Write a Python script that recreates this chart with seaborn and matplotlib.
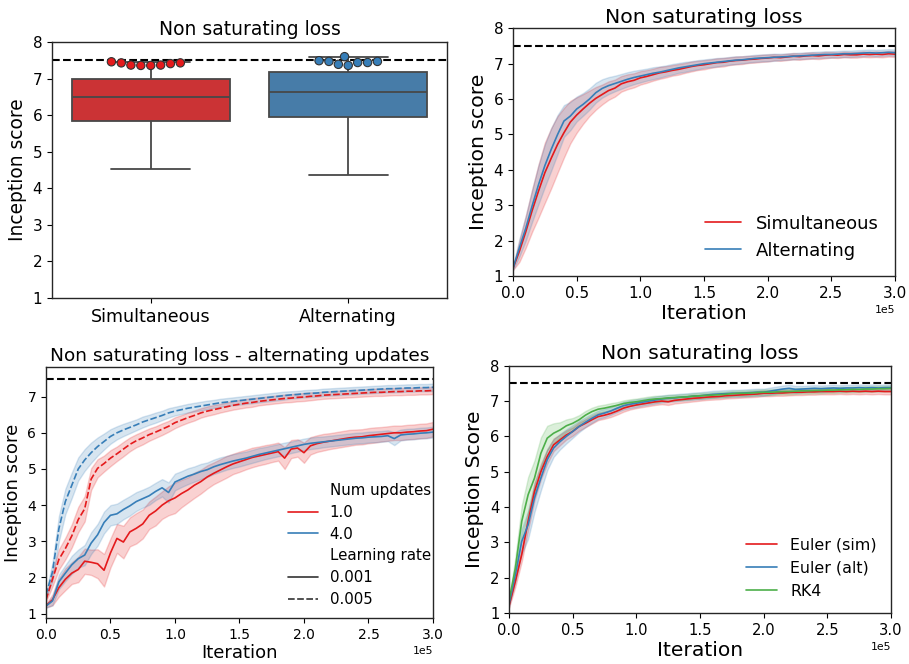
import numpy as np
import pandas as pd
import matplotlib
matplotlib.use("Agg")
import matplotlib.pyplot as plt
import seaborn as sns

# ---------------------------------------------------------------------------
# Data
# ---------------------------------------------------------------------------
ITER = np.arange(0, 300001, 5000)          # evaluation checkpoints

RED, BLUE, GREEN = "#e41a1c", "#377eb8", "#4daf4a"
TARGET_SCORE = 7.5                         # score of the real data

# Top left: distribution of scores per update scheme
methods = ["Simultaneous", "Alternating"]
# whisker low, Q1, median, Q3, whisker high
sim_summary = [4.53, 5.83, 6.50, 7.00, 7.46]
alt_summary = [4.36, 5.94, 6.64, 7.18, 7.60]
# best score of every run
sim_best = [7.46, 7.43, 7.37, 7.36, 7.36, 7.37, 7.41, 7.43]
alt_best = [7.47, 7.44, 7.39, 7.60, 7.36, 7.44, 7.47, 7.49]

# Top right: mean score and spread over runs
tr_sim = [1.22, 1.70, 2.25, 2.85, 3.40, 3.92, 4.33, 4.72, 5.05, 5.35,
          5.55, 5.72, 5.88, 6.02, 6.13, 6.24, 6.31, 6.43, 6.49, 6.53,
          6.60, 6.64, 6.69, 6.74, 6.77, 6.81, 6.84, 6.88, 6.92, 6.95,
          6.97, 7.00, 7.03, 7.04, 7.07, 7.09, 7.10, 7.12, 7.13, 7.15,
          7.16, 7.18, 7.17, 7.19, 7.21, 7.20, 7.22, 7.23, 7.22, 7.24,
          7.25, 7.24, 7.26, 7.25, 7.25, 7.27, 7.26, 7.27, 7.26, 7.28,
          7.27]
tr_sim_spread = [0.05, 0.30, 0.45, 0.60, 0.75, 0.85, 0.85, 0.80, 0.70, 0.60,
                 0.50, 0.42, 0.36, 0.32, 0.28, 0.26, 0.24, 0.22, 0.21, 0.20,
                 0.19, 0.18, 0.17, 0.17, 0.16, 0.15, 0.15, 0.14, 0.14, 0.13,
                 0.13, 0.12, 0.12, 0.12, 0.11, 0.11, 0.11, 0.10, 0.10, 0.10,
                 0.10, 0.09, 0.09, 0.09, 0.09, 0.09, 0.09, 0.09, 0.09, 0.09,
                 0.08, 0.08, 0.08, 0.08, 0.08, 0.08, 0.08, 0.08, 0.08, 0.08,
                 0.08]
tr_alt = [1.22, 1.80, 2.35, 2.98, 3.58, 4.12, 4.58, 5.00, 5.38, 5.52,
          5.72, 5.85, 6.00, 6.18, 6.30, 6.38, 6.44, 6.50, 6.56, 6.61,
          6.65, 6.69, 6.73, 6.76, 6.80, 6.84, 6.88, 6.91, 6.94, 6.97,
          7.00, 7.02, 7.04, 7.06, 7.08, 7.10, 7.11, 7.13, 7.15, 7.16,
          7.17, 7.18, 7.19, 7.20, 7.21, 7.22, 7.23, 7.24, 7.25, 7.26,
          7.26, 7.27, 7.28, 7.28, 7.29, 7.30, 7.31, 7.30, 7.31, 7.32,
          7.31]
tr_alt_spread = [0.05, 0.25, 0.35, 0.45, 0.55, 0.60, 0.60, 0.55, 0.45, 0.40,
                 0.35, 0.32, 0.30, 0.28, 0.26, 0.24, 0.22, 0.21, 0.20, 0.19,
                 0.18, 0.17, 0.17, 0.16, 0.15, 0.15, 0.14, 0.14, 0.13, 0.13,
                 0.12, 0.12, 0.12, 0.11, 0.11, 0.11, 0.10, 0.10, 0.10, 0.10,
                 0.10, 0.10, 0.09, 0.09, 0.09, 0.09, 0.09, 0.09, 0.09, 0.09,
                 0.09, 0.09, 0.09, 0.09, 0.09, 0.09, 0.09, 0.09, 0.09, 0.09,
                 0.09]

# Bottom left: alternating updates, by number of updates and learning rate
num_updates = ["1.0", "4.0"]
learning_rates = ["0.001", "0.005"]
bl_u1_lr1 = [1.22, 1.38, 1.72, 1.95, 2.12, 2.22, 2.45, 2.42, 2.38, 2.20,
             2.68, 3.08, 2.98, 3.26, 3.36, 3.48, 3.72, 3.84, 4.00, 4.12,
             4.20, 4.32, 4.42, 4.55, 4.65, 4.78, 4.88, 4.97, 5.06, 5.14,
             5.20, 5.26, 5.32, 5.36, 5.40, 5.44, 5.48, 5.30, 5.55, 5.58,
             5.45, 5.64, 5.70, 5.74, 5.77, 5.80, 5.83, 5.86, 5.88, 5.89,
             5.92, 5.94, 5.96, 5.98, 6.00, 6.00, 6.02, 6.03, 6.05, 6.06,
             6.10]
bl_u1_lr1_spread = [0.05, 0.15, 0.25, 0.30, 0.30, 0.35, 0.35, 0.35, 0.40, 0.45,
                    0.40, 0.40, 0.45, 0.40, 0.42, 0.40, 0.38, 0.40, 0.38, 0.40,
                    0.42, 0.38, 0.35, 0.35, 0.33, 0.32, 0.30, 0.30, 0.30, 0.28,
                    0.28, 0.27, 0.27, 0.26, 0.26, 0.25, 0.25, 0.30, 0.25, 0.24,
                    0.28, 0.24, 0.23, 0.23, 0.22, 0.22, 0.22, 0.22, 0.21, 0.21,
                    0.21, 0.21, 0.20, 0.20, 0.20, 0.20, 0.20, 0.20, 0.20, 0.20,
                    0.20]
bl_u4_lr1 = [1.21, 1.35, 1.88, 2.12, 2.35, 2.52, 2.62, 2.95, 3.18, 3.52,
             3.72, 3.76, 3.88, 3.98, 4.10, 4.18, 4.26, 4.38, 4.48, 4.35,
             4.64, 4.72, 4.80, 4.86, 4.93, 4.98, 5.06, 5.12, 5.17, 5.22,
             5.26, 5.30, 5.35, 5.40, 5.44, 5.48, 5.52, 5.56, 5.60, 5.64,
             5.68, 5.71, 5.73, 5.75, 5.77, 5.79, 5.81, 5.83, 5.85, 5.86,
             5.88, 5.89, 5.90, 5.92, 5.84, 5.94, 5.96, 5.97, 5.99, 6.00,
             6.02]
bl_u4_lr1_spread = [0.05, 0.12, 0.20, 0.22, 0.25, 0.25, 0.28, 0.30, 0.30, 0.30,
                    0.28, 0.28, 0.27, 0.27, 0.26, 0.25, 0.25, 0.24, 0.24, 0.28,
                    0.23, 0.22, 0.22, 0.21, 0.21, 0.20, 0.20, 0.20, 0.19, 0.19,
                    0.19, 0.18, 0.18, 0.18, 0.17, 0.17, 0.17, 0.17, 0.16, 0.16,
                    0.16, 0.16, 0.16, 0.15, 0.15, 0.15, 0.15, 0.15, 0.15, 0.15,
                    0.15, 0.15, 0.15, 0.15, 0.18, 0.15, 0.15, 0.15, 0.15, 0.15,
                    0.15]
bl_u1_lr5 = [1.38, 1.95, 2.50, 2.80, 3.15, 3.60, 3.90, 4.72, 5.02, 5.15,
             5.30, 5.42, 5.55, 5.68, 5.78, 5.86, 5.95, 6.02, 6.10, 6.18,
             6.28, 6.35, 6.42, 6.48, 6.55, 6.60, 6.64, 6.68, 6.72, 6.76,
             6.79, 6.82, 6.84, 6.87, 6.89, 6.91, 6.93, 6.95, 6.96, 6.98,
             6.99, 7.01, 7.02, 7.04, 7.05, 7.06, 7.07, 7.08, 7.09, 7.10,
             7.11, 7.12, 7.12, 7.13, 7.14, 7.14, 7.15, 7.15, 7.16, 7.16,
             7.17]
bl_u1_lr5_spread = [0.05, 0.20, 0.28, 0.30, 0.32, 0.35, 0.35, 0.30, 0.25, 0.22,
                    0.22, 0.20, 0.20, 0.19, 0.18, 0.18, 0.17, 0.16, 0.16, 0.15,
                    0.15, 0.14, 0.14, 0.14, 0.13, 0.13, 0.13, 0.12, 0.12, 0.12,
                    0.12, 0.12, 0.12, 0.11, 0.11, 0.11, 0.11, 0.11, 0.11, 0.11,
                    0.11, 0.11, 0.10, 0.10, 0.10, 0.10, 0.10, 0.10, 0.10, 0.10,
                    0.10, 0.10, 0.10, 0.10, 0.10, 0.10, 0.10, 0.10, 0.10, 0.10,
                    0.10]
bl_u4_lr5 = [1.52, 2.15, 3.35, 4.10, 4.55, 5.00, 5.25, 5.45, 5.62, 5.76,
             5.90, 6.00, 6.08, 6.15, 6.22, 6.30, 6.36, 6.42, 6.48, 6.55,
             6.60, 6.64, 6.68, 6.71, 6.74, 6.77, 6.80, 6.83, 6.85, 6.87,
             6.89, 6.91, 6.93, 6.95, 6.97, 6.99, 7.01, 7.03, 7.05, 7.06,
             7.08, 7.09, 7.10, 7.12, 7.13, 7.14, 7.15, 7.16, 7.17, 7.18,
             7.19, 7.20, 7.21, 7.22, 7.22, 7.23, 7.24, 7.24, 7.25, 7.25,
             7.26]
bl_u4_lr5_spread = [0.08, 0.25, 0.35, 0.35, 0.35, 0.32, 0.30, 0.28, 0.25, 0.22,
                    0.20, 0.18, 0.17, 0.16, 0.15, 0.15, 0.14, 0.14, 0.13, 0.13,
                    0.12, 0.12, 0.12, 0.12, 0.12, 0.12, 0.11, 0.11, 0.11, 0.11,
                    0.11, 0.11, 0.11, 0.11, 0.11, 0.11, 0.11, 0.11, 0.10, 0.10,
                    0.10, 0.10, 0.10, 0.10, 0.10, 0.10, 0.10, 0.10, 0.10, 0.10,
                    0.10, 0.10, 0.10, 0.10, 0.10, 0.10, 0.10, 0.10, 0.10, 0.10,
                    0.10]

# Bottom right: integrators
br_euler_sim = [1.20, 1.90, 2.66, 3.60, 4.44, 5.00, 5.43, 5.76, 5.90, 6.04,
                6.14, 6.28, 6.37, 6.47, 6.56, 6.60, 6.65, 6.72, 6.80, 6.85,
                6.89, 6.92, 6.95, 6.98, 7.00, 6.98, 7.02, 7.04, 7.06, 7.08,
                7.09, 7.11, 7.12, 7.13, 7.15, 7.16, 7.17, 7.18, 7.19, 7.20,
                7.22, 7.22, 7.23, 7.23, 7.24, 7.25, 7.25, 7.26, 7.26, 7.27,
                7.27, 7.27, 7.28, 7.27, 7.28, 7.27, 7.28, 7.27, 7.28, 7.27,
                7.27]
br_euler_sim_spread = [0.05, 0.15, 0.20, 0.25, 0.25, 0.22, 0.20, 0.18, 0.15, 0.13,
                       0.12, 0.12, 0.11, 0.11, 0.10, 0.10, 0.10, 0.10, 0.10, 0.09,
                       0.09, 0.09, 0.09, 0.09, 0.09, 0.09, 0.09, 0.09, 0.09, 0.09,
                       0.08, 0.08, 0.08, 0.08, 0.08, 0.08, 0.08, 0.08, 0.08, 0.08,
                       0.08, 0.08, 0.08, 0.08, 0.08, 0.08, 0.08, 0.08, 0.08, 0.08,
                       0.08, 0.08, 0.08, 0.08, 0.08, 0.08, 0.08, 0.08, 0.08, 0.08,
                       0.08]
br_euler_alt = [1.25, 2.09, 3.03, 3.50, 4.26, 4.82, 5.34, 5.67, 5.85, 6.00,
                6.14, 6.28, 6.40, 6.51, 6.61, 6.66, 6.72, 6.80, 6.87, 6.91,
                6.94, 6.97, 7.00, 7.03, 7.06, 7.08, 7.09, 7.11, 7.12, 7.14,
                7.15, 7.17, 7.19, 7.20, 7.21, 7.22, 7.22, 7.23, 7.24, 7.25,
                7.25, 7.28, 7.31, 7.34, 7.36, 7.33, 7.34, 7.35, 7.36, 7.35,
                7.36, 7.37, 7.36, 7.37, 7.37, 7.38, 7.37, 7.38, 7.37, 7.38,
                7.38]
br_euler_alt_spread = [0.05, 0.20, 0.35, 0.40, 0.40, 0.35, 0.30, 0.25, 0.22, 0.20,
                       0.18, 0.16, 0.14, 0.13, 0.12, 0.12, 0.11, 0.11, 0.11, 0.11,
                       0.11, 0.10, 0.10, 0.10, 0.10, 0.10, 0.10, 0.10, 0.10, 0.10,
                       0.10, 0.10, 0.10, 0.10, 0.10, 0.10, 0.10, 0.10, 0.10, 0.10,
                       0.10, 0.10, 0.10, 0.10, 0.10, 0.10, 0.09, 0.09, 0.09, 0.09,
                       0.09, 0.09, 0.09, 0.09, 0.09, 0.09, 0.09, 0.09, 0.09, 0.09,
                       0.09]
br_rk4 = [1.34, 2.28, 3.60, 4.35, 4.82, 5.52, 5.95, 6.09, 6.18, 6.30,
          6.37, 6.47, 6.60, 6.70, 6.77, 6.80, 6.84, 6.88, 6.93, 6.96,
          6.98, 7.01, 7.04, 7.06, 7.07, 7.09, 7.10, 7.11, 7.12, 7.14,
          7.15, 7.16, 7.17, 7.18, 7.19, 7.21, 7.22, 7.22, 7.23, 7.24,
          7.25, 7.25, 7.26, 7.27, 7.27, 7.28, 7.29, 7.29, 7.30, 7.30,
          7.31, 7.31, 7.32, 7.32, 7.33, 7.33, 7.34, 7.34, 7.35, 7.35,
          7.36]
br_rk4_spread = [0.05, 0.30, 0.45, 0.50, 0.50, 0.45, 0.35, 0.28, 0.22, 0.18,
                 0.15, 0.13, 0.12, 0.11, 0.10, 0.10, 0.10, 0.09, 0.09, 0.09,
                 0.09, 0.09, 0.09, 0.09, 0.08, 0.08, 0.08, 0.08, 0.08, 0.08,
                 0.08, 0.08, 0.08, 0.08, 0.08, 0.08, 0.08, 0.08, 0.08, 0.08,
                 0.08, 0.08, 0.08, 0.08, 0.08, 0.08, 0.08, 0.08, 0.08, 0.08,
                 0.08, 0.08, 0.08, 0.08, 0.08, 0.08, 0.08, 0.08, 0.08, 0.08,
                 0.08]


def band_frame(curves, ycol):
    """Long-form frame: each checkpoint gets the lower and upper edge of the
    spread, so the mean is the curve and the min/max interval is the band."""
    rows = []
    for mean, spread, labels in curves:
        for it, m, s in zip(ITER, mean, spread):
            for v in (m - s, m + s):
                rows.append({**labels, "Iteration": it, ycol: v})
    return pd.DataFrame(rows)


def relegend(ax, size, **kw):
    old = ax.get_legend()
    handles = old.legend_handles
    labels = [t.get_text() for t in old.get_texts()]
    old.remove()
    ax.legend(handles, labels, frameon=False, fontsize=size, **kw)


def style_iteration_axis(ax, ticksize):
    ax.set_xlim(0, 300000)
    ax.ticklabel_format(axis="x", style="sci", scilimits=(0, 0))
    ax.xaxis.get_offset_text().set_fontsize(7.8)
    ax.tick_params(labelsize=ticksize)


# ---------------------------------------------------------------------------
# Figure
# ---------------------------------------------------------------------------
sns.set_style("ticks")
plt.rcParams["font.family"] = ["DejaVu Sans"]
plt.rcParams["text.color"] = "black"
plt.rcParams["axes.labelcolor"] = "black"
plt.rcParams["xtick.color"] = "black"
plt.rcParams["ytick.color"] = "black"
plt.rcParams["axes.edgecolor"] = "0.15"

fig = plt.figure(figsize=(9.09, 6.64), dpi=100)
ax_tl = fig.add_axes([0.0572, 0.5512, 0.4345, 0.3855])
ax_tr = fig.add_axes([0.5644, 0.5843, 0.4202, 0.3731])
ax_bl = fig.add_axes([0.0506, 0.0693, 0.4257, 0.3780])
ax_br = fig.add_axes([0.5600, 0.0768, 0.4202, 0.3724])

# --- top left: box plot with best run scores ---
box_df = pd.DataFrame({"update": np.repeat(methods, len(sim_summary)),
                       "Inception score": sim_summary + alt_summary})
best_df = pd.DataFrame({"update": np.repeat(methods, len(sim_best)),
                        "Inception score": sim_best + alt_best})
sns.boxplot(data=box_df, x="update", y="Inception score", hue="update",
            palette=[RED, BLUE], legend=False, width=0.8, linewidth=1.3,
            ax=ax_tl)
ax_tl.axhline(TARGET_SCORE, color="black", ls="--", lw=1.5, zorder=0.5)
sns.swarmplot(data=best_df, x="update", y="Inception score", hue="update",
              palette=[RED, BLUE], legend=False, size=6.0,
              edgecolor="#333333", linewidth=0.8, ax=ax_tl)
ax_tl.set_ylim(1, 8)
ax_tl.set_yticks(range(1, 9))
ax_tl.set_xlabel("")
ax_tl.set_ylabel("Inception score", fontsize=13.4)
ax_tl.set_title("Non saturating loss", fontsize=13.5, pad=5)
ax_tl.tick_params(axis="x", labelsize=12.6)
ax_tl.tick_params(axis="y", labelsize=11)

# --- top right: simultaneous vs alternating ---
tr_df = band_frame([(tr_sim, tr_sim_spread, {"update": "Simultaneous"}),
                    (tr_alt, tr_alt_spread, {"update": "Alternating"})],
                   "Inception score")
sns.lineplot(data=tr_df, x="Iteration", y="Inception score", hue="update",
             palette=[RED, BLUE], errorbar=("pi", 100), linewidth=1.2,
             ax=ax_tr)
ax_tr.axhline(TARGET_SCORE, color="black", ls="--", lw=1.5)
ax_tr.set_ylim(1, 8)
ax_tr.set_yticks(range(1, 9))
style_iteration_axis(ax_tr, 11)
ax_tr.set_xlabel("Iteration", fontsize=14.5, labelpad=2)
ax_tr.set_ylabel("Inception score", fontsize=14.7)
ax_tr.set_title("Non saturating loss", fontsize=14.7, pad=4)
relegend(ax_tr, 13, loc="lower right")

# --- bottom left: number of updates and learning rate ---
bl_df = band_frame([
    (bl_u1_lr1, bl_u1_lr1_spread, {"Num updates": "1.0", "Learning rate": "0.001"}),
    (bl_u4_lr1, bl_u4_lr1_spread, {"Num updates": "4.0", "Learning rate": "0.001"}),
    (bl_u1_lr5, bl_u1_lr5_spread, {"Num updates": "1.0", "Learning rate": "0.005"}),
    (bl_u4_lr5, bl_u4_lr5_spread, {"Num updates": "4.0", "Learning rate": "0.005"}),
], "Inception score")
sns.lineplot(data=bl_df, x="Iteration", y="Inception score",
             hue="Num updates", style="Learning rate",
             hue_order=num_updates, style_order=learning_rates,
             palette=[RED, BLUE], errorbar=("pi", 100), linewidth=1.2,
             ax=ax_bl)
ax_bl.axhline(TARGET_SCORE, color="black", ls="--", lw=1.5)
ax_bl.set_ylim(0.88, 7.82)
ax_bl.set_yticks(range(1, 8))
style_iteration_axis(ax_bl, 10)
ax_bl.set_xlabel("Iteration", fontsize=13, labelpad=2)
ax_bl.set_ylabel("Inception score", fontsize=13.1)
ax_bl.set_title("Non saturating loss - alternating updates", fontsize=13.3, pad=4.5)
relegend(ax_bl, 10.8, loc="lower right", borderaxespad=0,
         bbox_to_anchor=(1.01, 0.02), labelspacing=0.45)

# --- bottom right: Euler vs RK4 ---
br_df = band_frame([
    (br_euler_sim, br_euler_sim_spread, {"method": "Euler (sim)"}),
    (br_euler_alt, br_euler_alt_spread, {"method": "Euler (alt)"}),
    (br_rk4, br_rk4_spread, {"method": "RK4"}),
], "Inception Score")
sns.lineplot(data=br_df, x="Iteration", y="Inception Score", hue="method",
             palette=[RED, BLUE, GREEN], errorbar=("pi", 100), linewidth=1.2,
             ax=ax_br)
ax_br.axhline(TARGET_SCORE, color="black", ls="--", lw=1.5)
ax_br.set_ylim(1, 8)
ax_br.set_yticks(range(1, 9))
style_iteration_axis(ax_br, 10.6)
ax_br.set_xlabel("Iteration", fontsize=14.6, labelpad=2)
ax_br.set_ylabel("Inception Score", fontsize=14.6)
ax_br.set_title("Non saturating loss", fontsize=14.7, pad=4.8)
relegend(ax_br, 11.4, loc="lower right")

for ax in (ax_tl, ax_tr, ax_bl, ax_br):
    for sp in ax.spines.values():
        sp.set_linewidth(1.0)
        sp.set_color("0.15")

fig.savefig("out.png", dpi=100)
